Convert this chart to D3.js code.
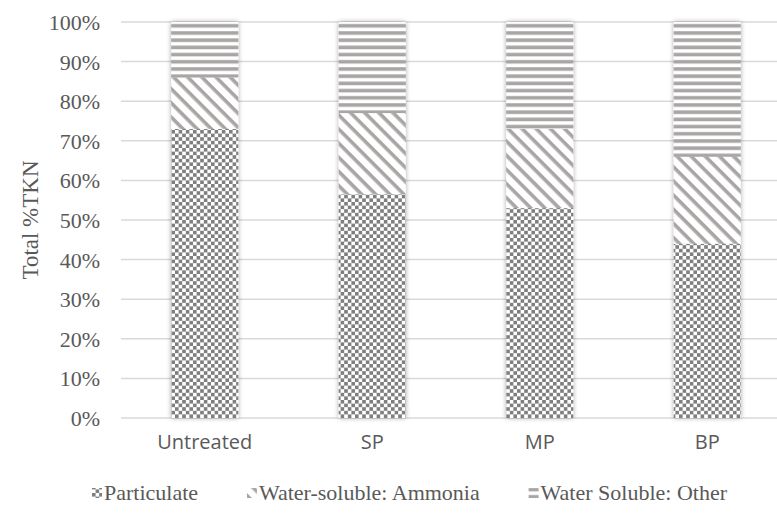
<!DOCTYPE html>
<html>
<head>
<meta charset="utf-8">
<script src="https://cdn.jsdelivr.net/npm/d3@7"></script>
<style>
  body { margin: 0; background: #fff; }
  svg { display: block; }
</style>
</head>
<body>
<div id="viz"></div>
<script>
// chart data
var categories = ["Untreated", "SP", "MP", "BP"];
var seriesNames = ["Particulate", "Water-soluble: Ammonia", "Water Soluble: Other"];
var particulate = [73, 56.5, 53, 44];
var ammonia = [13, 20.5, 20, 22];
var other = [14, 23, 27, 34];
var yTicks = [0, 10, 20, 30, 40, 50, 60, 70, 80, 90, 100];

var width = 777, height = 521;
var margin = { top: 22, right: -14, bottom: 103, left: 121 };
var innerW = width - margin.left - margin.right,
  innerH = height - margin.top - margin.bottom;

var serif = "'Liberation Serif', 'Times New Roman', serif";

var svg = d3.select("#viz").append("svg")
  .attr("width", width)
  .attr("height", height);

var defs = svg.append("defs");

// checkerboard for particulate
var pCheck = defs.append("pattern")
  .attr("id", "pat0")
  .attr("patternUnits", "userSpaceOnUse")
  .attr("width", 7.2).attr("height", 7.2);
pCheck.append("rect").attr("width", 7.2).attr("height", 7.2).attr("fill", "#fff");
pCheck.append("rect").attr("width", 3.6).attr("height", 3.6).attr("fill", "#7f7f7f");
pCheck.append("rect").attr("x", 3.6).attr("y", 3.6).attr("width", 3.6).attr("height", 3.6).attr("fill", "#7f7f7f");

// wide downward diagonal for ammonia
var pDiag = defs.append("pattern")
  .attr("id", "pat1")
  .attr("patternUnits", "userSpaceOnUse")
  .attr("width", 10).attr("height", 10)
  .attr("patternTransform", "rotate(45)");
pDiag.append("rect").attr("width", 10).attr("height", 10).attr("fill", "#fff");
pDiag.append("rect").attr("width", 10).attr("height", 3.6).attr("fill", "#a9a5a5");

// horizontal stripes for other
var pHor = defs.append("pattern")
  .attr("id", "pat2")
  .attr("patternUnits", "userSpaceOnUse")
  .attr("width", 7.2).attr("height", 7.2);
pHor.append("rect").attr("width", 7.2).attr("height", 7.2).attr("fill", "#fff");
pHor.append("rect").attr("y", 2).attr("width", 7.2).attr("height", 3.6).attr("fill", "#a9a5a5");

// soft shadow around bars
var shadow = defs.append("filter").attr("id", "shadow")
  .attr("x", "-20%").attr("y", "-5%").attr("width", "140%").attr("height", "110%");
shadow.append("feGaussianBlur").attr("in", "SourceAlpha").attr("stdDeviation", 2.5);
shadow.append("feComponentTransfer").append("feFuncA").attr("type", "linear").attr("slope", 0.35);
var merge = shadow.append("feMerge");
merge.append("feMergeNode");
merge.append("feMergeNode").attr("in", "SourceGraphic");

var g = svg.append("g")
  .attr("transform", "translate(" + margin.left + "," + margin.top + ")");

var xScale = d3.scaleBand().domain(categories).range([0, innerW]).paddingInner(0.6).paddingOuter(0.3);
var yScale = d3.scaleLinear().domain([0, 100]).range([innerH, 0]);

// gridlines
g.selectAll("line.grid")
  .data(yTicks)
  .enter()
  .append("line")
  .attr("class", "grid")
  .attr("x1", 0)
  .attr("x2", innerW)
  .attr("y1", function (d) { return yScale(d); })
  .attr("y2", function (d) { return yScale(d); })
  .attr("stroke", "#d9d9d9")
  .attr("stroke-width", 1.5);

// y axis labels
var yAxis = d3.axisLeft(yScale).tickValues(yTicks).tickSize(0).tickPadding(21)
  .tickFormat(function (d) { return d + "%"; });
var yG = g.append("g").call(yAxis);
yG.select(".domain").remove();
yG.attr("font-family", serif).attr("font-size", 22);
yG.selectAll("text")
  .attr("dy", "0.34em")
  .attr("fill", "#595959");

// x axis labels
var xAxis = d3.axisBottom(xScale).tickSize(0).tickPadding(17);
var xG = g.append("g").attr("transform", "translate(0," + innerH + ")").call(xAxis);
xG.select(".domain").remove();
xG.attr("font-family", "'Open Sans', 'Liberation Sans', sans-serif").attr("font-size", 20);
xG.selectAll("text")
  .attr("fill", "#595959");

// stacked bars
var table = categories.map(function (c, i) {
  return { cat: c, s0: particulate[i], s1: ammonia[i], s2: other[i] };
});
var stacked = d3.stack().keys(["s0", "s1", "s2"])(table);

var bars = g.append("g").attr("filter", "url(#shadow)");
bars.selectAll("g.series")
  .data(stacked)
  .enter()
  .append("g")
  .attr("class", "series")
  .attr("fill", function (d, i) { return "url(#pat" + i + ")"; })
  .selectAll("rect")
  .data(function (d) { return d; })
  .enter()
  .append("rect")
  .attr("x", function (d) { return xScale(d.data.cat); })
  .attr("width", xScale.bandwidth())
  .attr("y", function (d) { return yScale(d[1]); })
  .attr("height", function (d) { return yScale(d[0]) - yScale(d[1]); });

// axis title
svg.append("text")
  .attr("transform", "translate(38," + (margin.top + innerH / 2) + ") rotate(-90)")
  .attr("text-anchor", "middle")
  .attr("font-family", serif)
  .attr("font-size", 23)
  .attr("fill", "#595959")
  .text("Total %TKN");

// legend, spread between x=92 and x=727
var legend = svg.append("g").attr("transform", "translate(0,493)");
var legLeft = 92, legRight = 727, iconW = 12;
var items = seriesNames.map(function (name, i) {
  var item = legend.append("g");
  item.append("rect")
    .attr("x", 0).attr("y", -5)
    .attr("width", 10).attr("height", 10)
    .attr("fill", "url(#pat" + i + ")");
  var t = item.append("text")
    .attr("x", iconW)
    .attr("y", 7)
    .attr("font-family", serif)
    .attr("font-size", 22)
    .attr("fill", "#595959")
    .text(name);
  return { g: item, w: iconW + t.node().getComputedTextLength() };
});
var totalW = d3.sum(items, function (d) { return d.w; });
var gap = (legRight - legLeft - totalW) / (items.length - 1);
var lx = legLeft;
items.forEach(function (d) {
  d.g.attr("transform", "translate(" + lx + ",0)");
  lx += d.w + gap;
});
</script>
</body>
</html>
